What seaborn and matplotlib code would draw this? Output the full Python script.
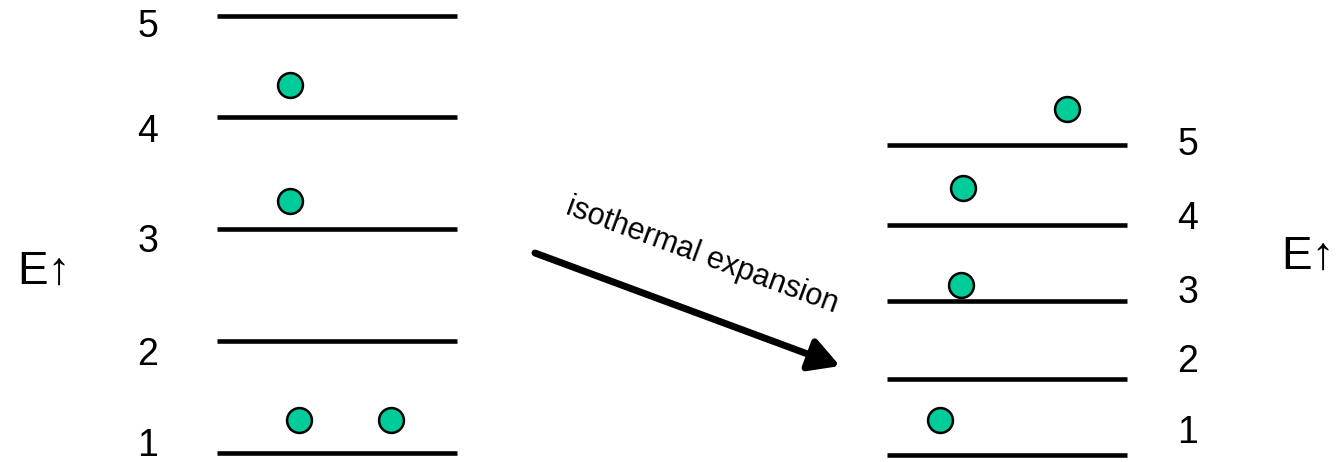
import pandas as pd
import seaborn as sns
import matplotlib.pyplot as plt

# Level diagram data (pixel-like coordinates, y grows downward)
left_levels = [16, 117, 229, 341, 453]
left_x = (217, 457)
left_labels = ["5", "4", "3", "2", "1"]
left_label_y = [27, 132, 242, 355, 446]

right_levels = [145, 225, 301, 379, 455]
right_x = (887, 1127)
right_labels = ["5", "4", "3", "2", "1"]
right_label_y = [145, 219, 293, 362, 433]

dots_x = [290, 290, 299, 391, 1067, 963, 961, 940]
dots_y = [85, 201, 420, 420, 109, 188, 285, 420]

sns.set_style("white")
plt.rcParams['font.family'] = ['Liberation Sans', 'DejaVu Sans']
plt.rcParams['text.color'] = 'black'

fig = plt.figure(figsize=(13.44, 4.62), dpi=100)
ax = fig.add_axes([0, 0, 1, 1])
ax.set_xlim(0, 1344)
ax.set_ylim(462, 0)
ax.axis('off')

ax.hlines(left_levels, *left_x, color='black', lw=3.3)
ax.hlines(right_levels, *right_x, color='black', lw=3.3)

for lab, y in zip(left_labels, left_label_y):
    ax.text(148, y, lab, fontsize=27, ha='center', va='center')
for lab, y in zip(right_labels, right_label_y):
    ax.text(1188, y, lab, fontsize=27, ha='center', va='center')

df = pd.DataFrame({'x': dots_x, 'y': dots_y})
sns.scatterplot(data=df, x='x', y='y', ax=ax, s=320, color='#00cc99',
                edgecolor='black', linewidth=1.8, zorder=3)

ax.text(44, 272, "E\u2191", fontsize=33, ha='center', va='center')
ax.text(1308, 257, "E\u2191", fontsize=33, ha='center', va='center')

ax.annotate("", xy=(840, 366), xytext=(535, 253),
            arrowprops=dict(arrowstyle='-|>,head_length=0.9,head_width=0.5',
                            mutation_scale=20, color='black', lw=5,
                            shrinkA=0, shrinkB=0))
ax.text(702, 256, "isothermal expansion", fontsize=22, rotation=-20.2,
        ha='center', va='center', rotation_mode='anchor')

fig.savefig('out.png', dpi=100)
